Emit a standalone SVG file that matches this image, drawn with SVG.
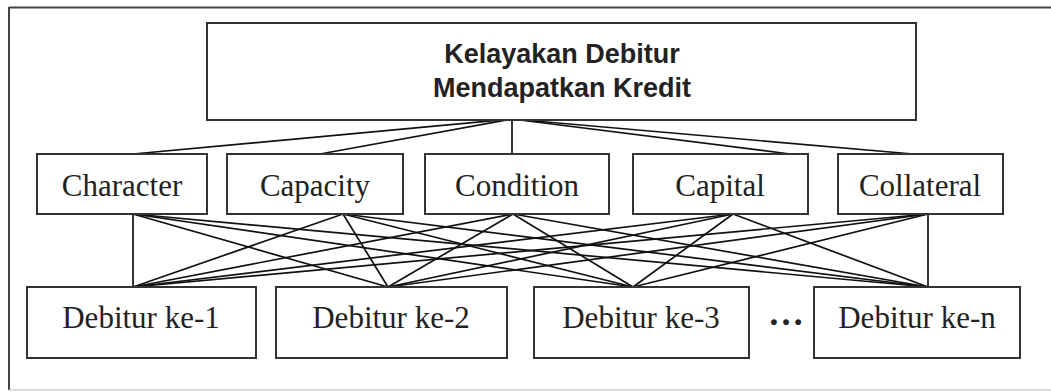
<svg xmlns="http://www.w3.org/2000/svg" width="1051" height="392" viewBox="0 0 1051 392">
<style>
.box{fill:#fff;stroke:#333;stroke-width:2}
.t{font-family:"Liberation Serif","Times New Roman",serif;font-size:31px;fill:#222;text-anchor:middle}
.h{font-family:"Liberation Sans",Arial,sans-serif;font-size:27px;font-weight:bold;fill:#222;text-anchor:middle}
.c line{stroke:#111;stroke-width:1.7}
</style>
<rect width="1051" height="392" fill="#fff"/>
<g id="frame">
<line x1="9" y1="7.5" x2="1051" y2="7.5" stroke="#444" stroke-width="2"/>
<line x1="9" y1="7" x2="9" y2="390" stroke="#444" stroke-width="2"/>
<line x1="9" y1="390" x2="1051" y2="390" stroke="#ccc" stroke-width="1.5"/>
</g>
<g class="c" id="connectors">
<line x1="512" y1="119" x2="133" y2="154"/>
<line x1="512" y1="119" x2="320" y2="154"/>
<line x1="512" y1="119" x2="512" y2="154"/>
<line x1="512" y1="119" x2="790" y2="154"/>
<line x1="512" y1="119" x2="913" y2="154"/>
<line x1="133" y1="214" x2="133" y2="287"/>
<line x1="133" y1="214" x2="388" y2="287"/>
<line x1="133" y1="214" x2="633" y2="287"/>
<line x1="133" y1="214" x2="928" y2="287"/>
<line x1="343" y1="214" x2="133" y2="287"/>
<line x1="343" y1="214" x2="388" y2="287"/>
<line x1="343" y1="214" x2="633" y2="287"/>
<line x1="343" y1="214" x2="928" y2="287"/>
<line x1="513" y1="214" x2="133" y2="287"/>
<line x1="513" y1="214" x2="388" y2="287"/>
<line x1="513" y1="214" x2="633" y2="287"/>
<line x1="513" y1="214" x2="928" y2="287"/>
<line x1="733" y1="214" x2="133" y2="287"/>
<line x1="733" y1="214" x2="388" y2="287"/>
<line x1="733" y1="214" x2="633" y2="287"/>
<line x1="733" y1="214" x2="928" y2="287"/>
<line x1="928" y1="214" x2="133" y2="287"/>
<line x1="928" y1="214" x2="388" y2="287"/>
<line x1="928" y1="214" x2="633" y2="287"/>
<line x1="928" y1="214" x2="928" y2="287"/>
</g>
<g id="goal">
<rect class="box" x="207" y="23" width="709" height="97"/>
<text class="h" x="562" y="63">Kelayakan Debitur</text>
<text class="h" x="562" y="97">Mendapatkan Kredit</text>
</g>
<g id="character"><rect class="box" x="37" y="154" width="170" height="60"/><text class="t" x="122" y="196">Character</text></g>
<g id="capacity"><rect class="box" x="227" y="154" width="176" height="60"/><text class="t" x="315" y="196">Capacity</text></g>
<g id="condition"><rect class="box" x="425" y="154" width="184" height="60"/><text class="t" x="517" y="196">Condition</text></g>
<g id="capital"><rect class="box" x="633" y="154" width="175" height="60"/><text class="t" x="720" y="196">Capital</text></g>
<g id="collateral"><rect class="box" x="838" y="154" width="165" height="60"/><text class="t" x="920" y="196">Collateral</text></g>
<g id="debitur1"><rect class="box" x="27" y="287" width="229" height="71"/><text class="t" x="141" y="328">Debitur ke-1</text></g>
<g id="debitur2"><rect class="box" x="276" y="287" width="231" height="71"/><text class="t" x="391" y="328">Debitur ke-2</text></g>
<g id="debitur3"><rect class="box" x="534" y="287" width="215" height="71"/><text class="t" x="641" y="328">Debitur ke-3</text></g>
<g id="ellipsis"><text class="t" x="786" y="325" style="font-weight:bold;font-size:36px">…</text></g>
<g id="debiturn"><rect class="box" x="814" y="287" width="206" height="71"/><text class="t" x="917" y="328">Debitur ke-n</text></g>
</svg>
